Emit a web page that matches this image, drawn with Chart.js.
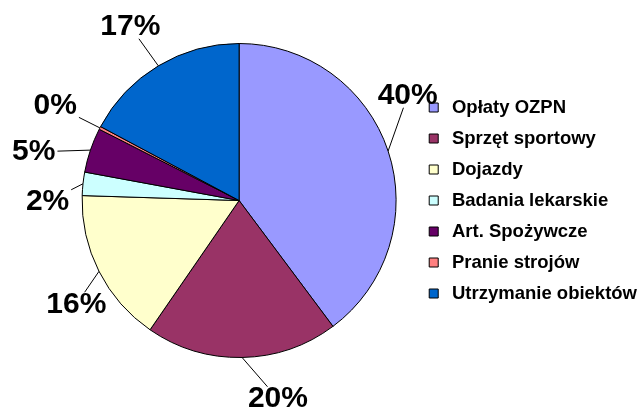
<!DOCTYPE html>
<html>
<head>
<meta charset="utf-8">
<script src="https://cdn.jsdelivr.net/npm/chart.js@4"></script>
<style>
  html, body { margin: 0; padding: 0; background: #fff; overflow: hidden; }
  #wrap { width: 647px; height: 412px; position: relative; }
</style>
</head>
<body>
<div id="wrap"><canvas id="koszty"></canvas></div>
<script>
const categories = ["Opłaty OZPN", "Sprzęt sportowy", "Dojazdy", "Badania lekarskie", "Art. Spożywcze", "Pranie strojów", "Utrzymanie obiektów"];
const shares = [39.8, 19.8, 15.9, 2.4, 4.6, 0.3, 17.2];
const sliceColors = ["#9999FF", "#993366", "#FFFFCC", "#CCFFFF", "#660066", "#FF8080", "#0066CC"];

// percentage labels outside the pie, with a thin leader line back to the slice
const pctLabels = {
  id: "pctLabels",
  afterDatasetsDraw(chart, args, opts) {
    const ctx = chart.ctx;
    const arcs = chart.getDatasetMeta(0).data;
    const total = shares.reduce((a, b) => a + b, 0);
    ctx.save();
    ctx.font = opts.font;
    ctx.textAlign = "center";
    ctx.textBaseline = "middle";
    ctx.fillStyle = "#000";
    ctx.strokeStyle = "#000";
    ctx.lineWidth = 1;
    arcs.forEach((arc, i) => {
      const p = arc.getProps(["x", "y", "startAngle", "endAngle", "outerRadius"], true);
      const mid = (p.startAngle + p.endAngle) / 2;
      const ax = p.x + Math.cos(mid) * p.outerRadius;
      const ay = p.y + Math.sin(mid) * p.outerRadius;
      const a = mid + opts.turn[i] * Math.PI / 180;
      const r = p.outerRadius + opts.gap[i];
      const tx = p.x + Math.cos(a) * r;
      const ty = p.y + Math.sin(a) * r;
      const text = Math.round(shares[i] / total * 100) + "%";
      const hw = ctx.measureText(text).width / 2 + 2;
      const hh = 12;
      const dx = tx - ax, dy = ty - ay;
      const s = 1 - Math.min(dx ? hw / Math.abs(dx) : Infinity, dy ? hh / Math.abs(dy) : Infinity);
      if (s > 0) {
        ctx.beginPath();
        ctx.moveTo(ax, ay);
        ctx.lineTo(ax + dx * s, ay + dy * s);
        ctx.stroke();
      }
      ctx.fillText(text, tx, ty);
    });
    ctx.restore();
  }
};

new Chart(document.getElementById("koszty"), {
  type: "pie",
  data: {
    labels: categories,
    datasets: [{
      data: shares,
      backgroundColor: sliceColors,
      borderColor: "#000",
      borderWidth: 1,
      radius: 157
    }]
  },
  options: {
    responsive: true,
    maintainAspectRatio: false,
    animation: false,
    layout: { padding: { left: 66, right: 0, top: 0, bottom: 11 } },
    plugins: {
      legend: {
        position: "right",
        labels: {
          color: "#000",
          font: { family: "'Liberation Sans', Arial, sans-serif", size: 18.5, weight: "bold" },
          usePointStyle: true,
          pointStyle: "rect",
          boxWidth: 18,
          boxHeight: 9,
          padding: 12.5
        }
      },
      tooltip: { enabled: false },
      pctLabels: {
        font: "bold 30px 'Liberation Sans', Arial, sans-serif",
        turn: [-13.5, -10, -5.7, -6.5, -5.4, -0.2, -1.1],
        gap: [41.5, 45, 36, 34.5, 54, 50, 48]
      }
    }
  },
  plugins: [pctLabels]
});
</script>
</body>
</html>
